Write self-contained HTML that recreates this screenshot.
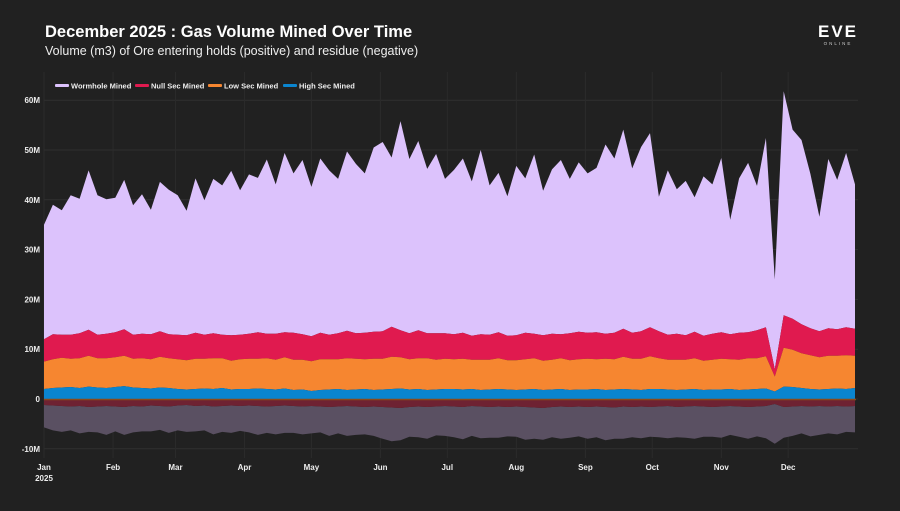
<!DOCTYPE html>
<html><head><meta charset="utf-8"><style>
body{margin:0;background:#212121;width:900px;height:506px;overflow:hidden;font-family:"Liberation Sans",sans-serif;}
svg text{font-family:"Liberation Sans",sans-serif;}
</style></head><body>
<svg id="chart" width="900" height="506" xmlns="http://www.w3.org/2000/svg">
<rect width="900" height="506" fill="#212121"/>
<text x="45" y="37" fill="#fff" font-size="16.5" font-weight="bold">December 2025 : Gas Volume Mined Over Time</text>
<text x="45" y="55" fill="#eee" font-size="12.5">Volume (m3) of Ore entering holds (positive) and residue (negative)</text>
<g><text x="838" y="37" fill="#fff" font-size="17" font-weight="bold" text-anchor="middle" letter-spacing="2">EVE</text><text x="838" y="45" fill="#ccc" font-size="4.5" text-anchor="middle" letter-spacing="2">ONLINE</text></g>
<g id="grid"></g><g id="areas"></g><g id="axes"></g>
<g id="legend"></g>
</svg>
<script>
const days=[];for(let i=0;i<92;i++)days.push(i*4);
const wormhole=[23,26,25,28,27,32,28,27, 27,30,26,28,25,30,29, 28,25,31,27,31,30,33,29, 32,31,35,30,36,32,35, 30,35,33,31,36,34,32,37, 38,34,42,35,38,33,36,31, 33,35,31,37,30,32,28, 34,31,36,29,33,35,31,34, 32,33,38,35,40,33,37,39, 27,33,29,31,27,32,30, 35,23,31,34,29,38,18,45, 38,37,31,23,34,30,35,29];
const nullSec=[4.5,5,4.6,4.8,5,5.2,4.7,4.9, 5,5.3,4.8,4.9,5,5.1,4.8, 4.9,5,5.2,4.8,5,4.7,5.1,4.9, 5,5.3,4.9,5.2,5,5.4,5.1, 5,5.3,4.9,5.2,5.5,5.1,5.3,5.4, 5.5,6,5.4,5.2,5.6,5,5.3,5.1, 5,5.2,4.8,5.1,5,5.2,4.9, 5,5.3,4.9,5.1,5.2,4.8,5.4,5.5, 5.2,5.4,5,5.3,5.6,5.2,5.5,5.8, 5.4,5,5.2,4.9,5.3,5,5.2, 5.3,5,5.4,5.2,5.6,5.8,1.5,6.5, 6.2,5.8,5.4,5.2,5.5,5.3,5.6,5.4];
const lowSec=[5.5,5.8,6,5.7,6,6.2,5.9,6, 6,6.1,5.8,6,5.9,6.2,6, 6,5.9,6.1,6,6.2,6,5.8,6, 6.1,6,6.2,6,6.3,6.1,6, 6,6.2,6.1,6,6.4,6.2,6,6.3, 6.2,6.5,6.3,6.1,6.2,6.4,6,6.1, 6,6.2,5.9,6.1,6,6.2,5.9, 6,6.1,6.2,5.9,6,6.2,6,6.1, 6.2,6,6.3,6.1,6.5,6.2,6.3,6.6, 6.2,6,6.1,6,6.2,5.9,6, 6.2,6,6.1,6.3,6.2,6.5,3,7.8, 7.5,7,6.8,6.5,6.7,6.6,6.8,6.5];
const highSec=[2,2.2,2.3,2.4,2.2,2.5,2.3,2.2, 2.4,2.6,2.3,2.2,2.1,2.3,2.2, 2,1.9,2,2.1,2,2.2,1.9,2, 2,2.1,2,1.9,2.1,1.8,1.9, 1.6,1.8,1.9,2,1.8,1.9,2,1.8, 1.9,2,2.1,1.9,2,1.8,1.9,2, 2,1.9,2,1.8,1.9,2,1.9, 1.8,1.9,2,1.8,1.9,2,1.8,1.9, 1.9,2,1.8,1.9,2,1.9,1.8,2, 2,1.9,1.8,1.9,2,1.8,1.9, 1.9,2,1.8,1.9,2,2.1,1.5,2.5, 2.4,2.2,2,1.9,2,2.1,2,2.2];
const residueRed=[-1.2,-1.3,-1.4,-1.5,-1.4,-1.6,-1.5,-1.4, -1.5,-1.6,-1.4,-1.5,-1.3,-1.4,-1.5, -1.3,-1.2,-1.4,-1.3,-1.5,-1.4,-1.3,-1.4, -1.3,-1.4,-1.5,-1.4,-1.3,-1.4,-1.5, -1.4,-1.5,-1.6,-1.5,-1.4,-1.5,-1.6,-1.5, -1.6,-1.7,-1.8,-1.6,-1.5,-1.6,-1.5,-1.4, -1.5,-1.6,-1.4,-1.5,-1.6,-1.5,-1.6, -1.5,-1.6,-1.7,-1.8,-1.6,-1.5,-1.6,-1.5, -1.6,-1.5,-1.6,-1.7,-1.5,-1.6,-1.5,-1.6, -1.5,-1.4,-1.6,-1.5,-1.4,-1.5,-1.6, -1.5,-1.4,-1.5,-1.6,-1.5,-1.4,-1,-1.6, -1.5,-1.4,-1.5,-1.4,-1.5,-1.4,-1.5,-1.4];
const residueGrey=[-4.5,-5,-5.2,-4.8,-5.5,-5,-5.2,-5.8, -5,-5.6,-5.3,-5,-5.2,-4.8,-5.3, -5,-5.4,-5.1,-5,-5.6,-5.2,-5.5,-5, -5.4,-5.8,-5.3,-5.7,-5.5,-5.4,-5.6, -5.5,-5.2,-5.8,-5.4,-6,-5.7,-5.5,-5.9, -6.4,-6.8,-6.5,-6,-6.2,-6.4,-5.8,-6, -6.2,-6.5,-6,-6.4,-6.2,-6.3,-5.9, -6.1,-6.6,-6.3,-6.4,-6.1,-6.5,-6.2,-6, -6.4,-6.2,-6.7,-6.3,-6.5,-6.1,-6.4,-6, -6.2,-6.5,-6.1,-6.3,-6.6,-6.1,-6, -6.3,-5.8,-6.1,-6.4,-6,-6.5,-8,-6.2, -5.9,-5.5,-6,-5.8,-5.4,-5.7,-5.1,-5.3];
const yTicks=[60,50,40,30,20,10,0,-10];
const yTickLabels=["60M","50M","40M","30M","20M","10M","0","-10M"];
const monthDays=[0,31,59,90,120,151,181,212,243,273,304,334];
const monthLabels=["Jan","Feb","Mar","Apr","May","Jun","Jul","Aug","Sep","Oct","Nov","Dec"];
const NS="http://www.w3.org/2000/svg";
const x=d=>44+d*(811/364);
const y=v=>399-v*4.98;
function mk(tag,attrs,parent){const e=document.createElementNS(NS,tag);for(const k in attrs)e.setAttribute(k,attrs[k]);parent.appendChild(e);return e;}
const grid=document.getElementById('grid'),areas=document.getElementById('areas'),axes=document.getElementById('axes'),legend=document.getElementById('legend');
yTicks.forEach((t,i)=>{const l=mk('line',{x1:44,x2:858,y1:y(t),y2:y(t),stroke:'#303030','stroke-width':1},grid);


const tx=mk('text',{x:40,y:y(t)+3,fill:'#eee','font-size':8,'font-weight':'bold','text-anchor':'end'},axes);tx.textContent=yTickLabels[i];

});
monthDays.forEach((d,i)=>{const l=mk('line',{x1:x(d),x2:x(d),y1:72,y2:458,stroke:'#2b2b2b','stroke-width':1},grid);


const tx=mk('text',{x:x(d),y:470,fill:'#eee','font-size':8,'font-weight':'bold','text-anchor':'middle'},axes);tx.textContent=monthLabels[i];

});
const yr=mk('text',{x:x(0),y:481,fill:'#eee','font-size':8,'font-weight':'bold','text-anchor':'middle'},axes);yr.textContent="2025";


function band(lo,hi,color,name){let p='M'+days.map((d,i)=>x(d).toFixed(1)+','+y(hi[i]).toFixed(1)).join('L');
for(let i=days.length-1;i>=0;i--)p+='L'+x(days[i]).toFixed(1)+','+y(lo[i]).toFixed(1);
const e=mk('path',{d:p+'Z',fill:color},areas);

}
const zero=days.map(()=>0);
const s1=highSec.slice(),s2=s1.map((v,i)=>v+lowSec[i]),s3=s2.map((v,i)=>v+nullSec[i]),s4=s3.map((v,i)=>v+wormhole[i]);
const n1=residueRed.slice(),n2=n1.map((v,i)=>v+residueGrey[i]);
band(s3,s4,'#dcc2fc','wormhole-area');
band(s2,s3,'#e01a4f','null-sec-area');
band(s1,s2,'#f68630','low-sec-area');
band(zero,s1,'#0a85cf','high-sec-area');
band(n1,n2,'#5a5062','residue-grey-area');
band(zero,n1,'#6e2232','residue-red-area');
const zl=mk('line',{x1:44,x2:856,y1:399.5,y2:399.5,stroke:'#8a4a1a','stroke-width':1.5},areas);


const leg=[["Wormhole Mined","#dcc2fc",55],["Null Sec Mined","#e01a4f",135],["Low Sec Mined","#f68630",208],["High Sec Mined","#0a85cf",283]];
leg.forEach(([t,c,lx])=>{const g=mk('g',{},legend);


mk('rect',{x:lx,y:84,width:14,height:3,fill:c,rx:1},g);
const tx=mk('text',{x:lx+16,y:88.5,fill:'#eee','font-size':7.5,'font-weight':'bold'},g);tx.textContent=t;});
</script>
</body></html>
